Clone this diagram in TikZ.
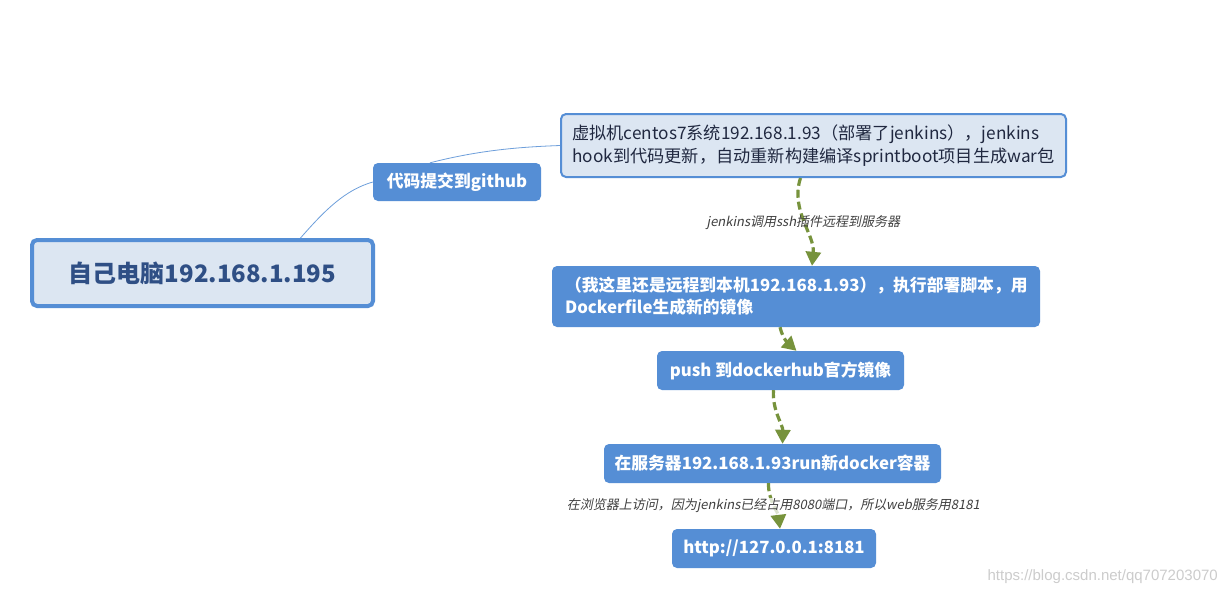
\documentclass[tikz,border=0pt]{standalone}
\usepackage{fontspec}
\setmainfont{Noto Sans CJK SC}
\newfontfamily\cjkit[FakeSlant=0.2]{Noto Sans CJK SC}
\newfontfamily\wmfont{Liberation Sans}
\usetikzlibrary{arrows.meta}
\definecolor{boxblue}{HTML}{558ED5}
\definecolor{lightfill}{HTML}{DCE6F2}
\definecolor{roottext}{HTML}{2F4F85}
\definecolor{darktext}{HTML}{202840}
\definecolor{flowgreen}{HTML}{77933C}
\definecolor{labelgray}{HTML}{404040}
\tikzset{
  lightbox/.style={draw=boxblue, fill=lightfill, rounded corners=5pt, line width=2pt, inner sep=0pt},
  rootbox/.style={lightbox, line width=4pt, text=roottext, font=\bfseries\fontsize{24}{28}\selectfont},
  vmbox/.style={lightbox, text=darktext, align=left, font=\fontsize{17.2}{23}\selectfont},
  bluebox/.style={fill=boxblue, text=white, rounded corners=5pt, inner sep=0pt, font=\bfseries\fontsize{16.8}{22}\selectfont},
  treeline/.style={draw=boxblue!85, line width=0.8pt},
  flow/.style={draw=flowgreen, line width=3.2pt, dash pattern=on 8pt off 4pt, -{Triangle[length=14pt,width=15pt]}},
  flowlabel/.style={text=labelgray, font=\cjkit\fontsize{13}{15}\selectfont, inner sep=1pt}
}
\begin{document}
\begin{tikzpicture}[x=1pt,y=-1pt]
\useasboundingbox[fill=white] (0,0) rectangle (1226,595);

\node[rootbox, minimum width=341pt, minimum height=66pt] (root) at (202.5,273) {自己电脑192.168.1.195};
\node[bluebox, minimum width=168pt, minimum height=38pt] (github) at (457,182) {代码提交到github};
\node[vmbox, minimum width=505pt, minimum height=63pt] (vm) at (813.5,145.5)
  {虚拟机centos7系统192.168.1.93（部署了jenkins），jenkins\\hook到代码更新，自动重新构建编译sprintboot项目生成war包};
\node[bluebox, align=left, text width=462pt, inner xsep=13pt, minimum height=61pt] (deploy) at (796,296.5)
  {（我这里还是远程到本机192.168.1.93），执行部署脚本，用\\Dockerfile生成新的镜像};
\node[bluebox, minimum width=247pt, minimum height=39pt] (push) at (780.5,370.5) {push 到dockerhub官方镜像};
\node[bluebox, minimum width=337pt, minimum height=39pt] (run) at (772.5,463.5) {在服务器192.168.1.93run新docker容器};
\node[bluebox, minimum width=204pt, minimum height=39pt] (http) at (774,548.5) {http://127.0.0.1:8181};

\draw[treeline] ([xshift=98pt]root.north) .. controls (325,210) and (345,190) .. (github.west);
\draw[treeline] ([xshift=-27pt]github.north) .. controls (480,150) and (520,147) .. (vm.west);

\draw[flow] ([xshift=-13pt]vm.south) .. controls (790,210) and (815,235) .. node[flowlabel] {jenkins调用ssh插件远程到服务器} ([xshift=16pt]deploy.north);
\draw[flow] ([xshift=-16pt]deploy.south) .. controls (783,340) and (790,345) .. ([xshift=16pt]push.north);
\draw[flow] ([xshift=-7pt]push.south) .. controls (772,410) and (783,425) .. ([xshift=10pt]run.north);
\draw[flow] ([xshift=-4pt]run.south) .. controls (768,500) and (778,512) .. node[flowlabel, fill=white, fill opacity=0.75, text opacity=1] {在浏览器上访问，因为jenkins已经占用8080端口，所以web服务用8181} ([xshift=6pt]http.north);

\node[text=gray!40, font=\wmfont\fontsize{15}{18}\selectfont, anchor=east, inner sep=0pt] (wm) at (1218,577) {https://blog.csdn.net/qq707203070};
\end{tikzpicture}
\end{document}
